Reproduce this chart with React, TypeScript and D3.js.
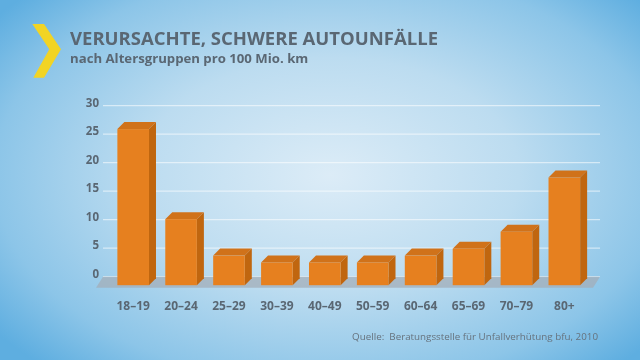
import React from 'react';
import * as d3 from 'd3';

const W = 640;
const H = 360;

// Altersgruppen und verursachte schwere Unfälle pro 100 Mio. km
const ageGroups = ['18–19', '20–24', '25–29', '30–39', '40–49', '50–59', '60–64', '65–69', '70–79', '80+'];
const accidents = [25.9, 10.1, 3.7, 2.5, 2.5, 2.5, 3.7, 4.9, 7.9, 17.4];
const yTicks = [0, 5, 10, 15, 20, 25, 30];

const title = 'VERURSACHTE, SCHWERE AUTOUNFÄLLE';
const subtitle = 'nach Altersgruppen pro 100 Mio. km';
const source = 'Quelle:  Beratungsstelle für Unfallverhütung bfu, 2010';

const font = '"Open Sans", "DejaVu Sans", sans-serif';
const textColor = '#5a6773';

export default function App() {
  const x = d3
    .scaleBand<string>()
    .domain(ageGroups)
    .range([103, 594.5])
    .paddingInner(0.34)
    .paddingOuter(0.3);
  const y = d3.scaleLinear().domain([0, 30]).range([276.7, 105.7]);

  // depth of the pseudo-3D bars
  const dx = 7;
  const dy = 7;
  const floorY = y(0);

  return (
    <div style={{ position: 'fixed', left: 0, top: 0 }}>
      <svg width={W} height={H} style={{ display: 'block' }}>
        <defs>
          <radialGradient id="bg" gradientUnits="userSpaceOnUse" cx={330} cy={175} r={420} gradientTransform="translate(330 175) scale(1 0.62) translate(-330 -175)">
            <stop offset="0" stopColor="#dcecf7" />
            <stop offset="0.45" stopColor="#bcdcf0" />
            <stop offset="0.8" stopColor="#8cc5e8" />
            <stop offset="1" stopColor="#5eaee0" />
          </radialGradient>
        </defs>
        <rect width={W} height={H} fill="url(#bg)" />

        {/* chevron */}
        <polygon points="32.3,24 44,24 61,49.3 44,77.7 33.3,77.7 49.3,49.3" fill="#f2d424" />

        <text x={70} y={45} fontFamily={font} fontWeight={700} fontSize={18.5} fill={textColor}>
          {title}
        </text>
        <text x={70} y={62.5} fontFamily={font} fontWeight={700} fontSize={13.2} fill={textColor}>
          {subtitle}
        </text>

        {/* gridlines */}
        {yTicks.map((t) => (
          <g key={t}>
            <line x1={103} x2={600} y1={y(t)} y2={y(t)} stroke="#ffffff" strokeOpacity={0.55} strokeWidth={1.3} />
            <text x={99} y={y(t) + 1} textAnchor="end" fontFamily={font} fontWeight={700} fontSize={11.5} fill={textColor}>
              {t}
            </text>
          </g>
        ))}

        {/* floor */}
        <polygon
          points={`103,${floorY} 600,${floorY} 593,${floorY + 11} 96,${floorY + 11}`}
          fill="#a3aeb8"
          fillOpacity={0.75}
        />

        {/* bars */}
        {ageGroups.map((g, i) => {
          const x0 = x(g)!;
          const x1 = x0 + x.bandwidth();
          const top = y(accidents[i]);
          const bottom = floorY + 8.5;
          return (
            <g key={g}>
              <polygon
                points={`${x0},${top} ${x0 + dx},${top - dy} ${x1 + dx},${top - dy} ${x1},${top}`}
                fill="#d0721a"
              />
              <polygon
                points={`${x1},${top} ${x1 + dx},${top - dy} ${x1 + dx},${bottom - dy} ${x1},${bottom}`}
                fill="#c0660f"
              />
              <rect x={x0} y={top} width={x.bandwidth()} height={bottom - top} fill="#e6801f" />
            </g>
          );
        })}

        {/* x labels */}
        {ageGroups.map((g) => (
          <text
            key={g}
            x={x(g)! + x.bandwidth() / 2}
            y={310}
            textAnchor="middle"
            fontFamily={font}
            fontWeight={700}
            fontSize={12}
            fill={textColor}
          >
            {g}
          </text>
        ))}

        <text
          x={598}
          y={340}
          textAnchor="end"
          fontFamily={font}
          fontSize={9.8}
          fill="#66727d"
          style={{ whiteSpace: 'pre' }}
        >
          {source}
        </text>
      </svg>
    </div>
  );
}
